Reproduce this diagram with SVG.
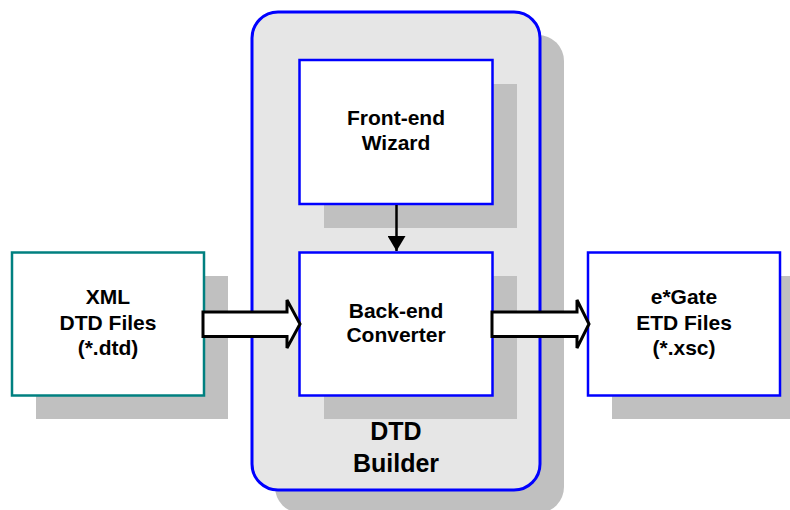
<svg xmlns="http://www.w3.org/2000/svg" width="790" height="510" viewBox="0 0 790 510">
<style>
.sh{fill:#c0c0c0}
.box{fill:#fff;stroke:#0000ff;stroke-width:2.5}
.t{font-family:"Liberation Sans",Arial,sans-serif;font-weight:bold;font-size:21px;text-anchor:middle;fill:#000}
.big{font-size:25px}
.blk{fill:#fff;stroke:#000;stroke-width:3;stroke-linejoin:miter}
</style>
<defs>
<marker id="ah" markerWidth="15" markerHeight="18" refX="15" refY="9" orient="auto" markerUnits="userSpaceOnUse" viewBox="0 0 15 18"><path d="M0,0 L15,9 L0,18 z" fill="#000"/></marker>
</defs>
<g id="builder">
<rect class="sh" x="275" y="35" width="289" height="478" rx="26"/>
<rect x="252" y="12" width="288" height="478" rx="26" fill="#e6e6e6" stroke="#0000ff" stroke-width="3"/>
<text class="t big" x="396" y="440">DTD</text>
<text class="t big" x="396" y="472">Builder</text>
</g>
<g id="frontend">
<rect class="sh" x="324" y="84" width="193" height="144"/>
<rect class="box" x="299.5" y="60" width="193" height="144"/>
<text class="t" x="396" y="125">Front-end</text>
<text class="t" x="396" y="150">Wizard</text>
</g>
<g id="backend">
<rect class="sh" x="324" y="276" width="193" height="143"/>
<rect class="box" x="299.5" y="252.5" width="193" height="143"/>
<text class="t" x="396" y="318">Back-end</text>
<text class="t" x="396" y="342">Converter</text>
</g>
<g id="xml">
<rect class="sh" x="36" y="276" width="192" height="143"/>
<rect x="12" y="252.5" width="192" height="143" fill="#fff" stroke="#008080" stroke-width="2.5"/>
<text class="t" x="108" y="304">XML</text>
<text class="t" x="108" y="330">DTD Files</text>
<text class="t" x="108" y="355">(*.dtd)</text>
</g>
<g id="egate">
<rect class="sh" x="612" y="276" width="192" height="143"/>
<rect class="box" x="588" y="252.5" width="192" height="143"/>
<text class="t" x="684" y="304">e*Gate</text>
<text class="t" x="684" y="330">ETD Files</text>
<text class="t" x="684" y="355">(*.xsc)</text>
</g>
<g id="connectors">
<line x1="396.5" y1="205" x2="396.5" y2="251" stroke="#000" stroke-width="2.5" marker-end="url(#ah)"/>
<path class="blk" d="M203,312 L287,312 L287,300 L300,324 L287,348 L287,336.5 L203,336.5 Z"/>
<path class="blk" d="M492,312 L577,312 L577,300 L589,324 L577,348 L577,336.5 L492,336.5 Z"/>
</g>
</svg>
